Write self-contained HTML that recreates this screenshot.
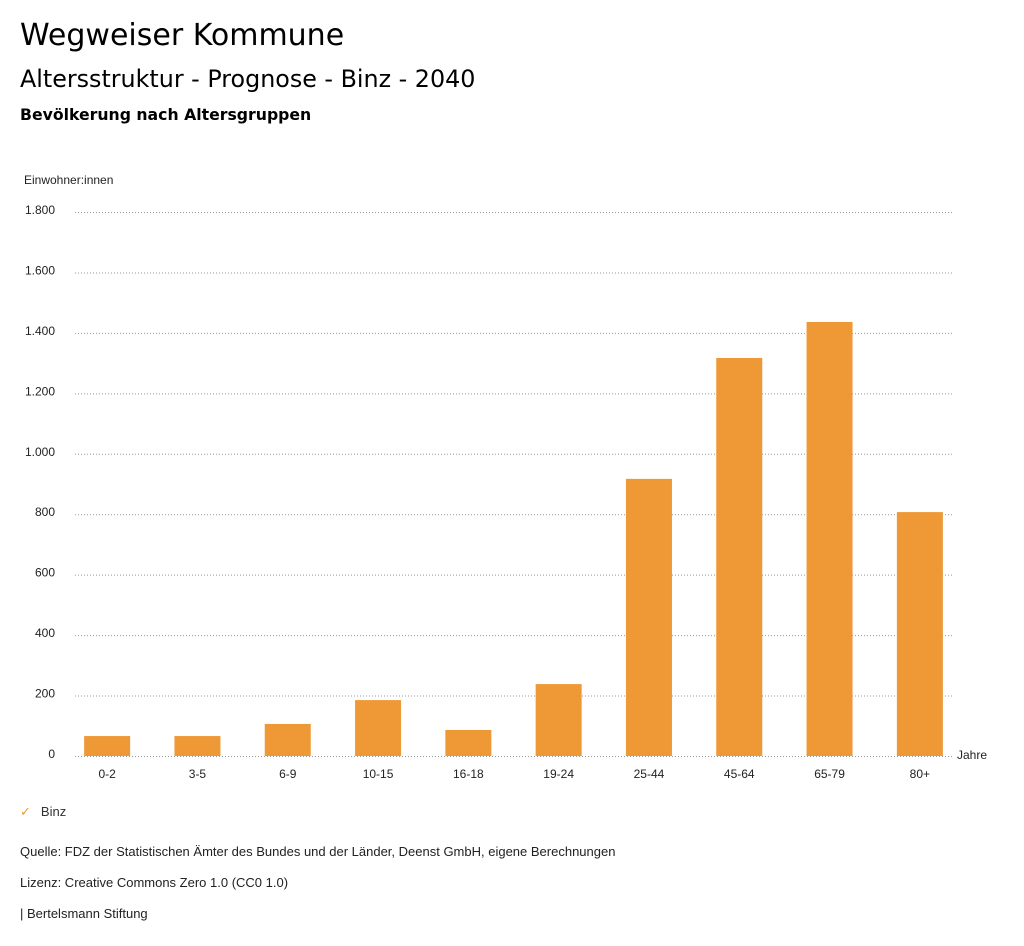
<!DOCTYPE html>
<html><head><meta charset="utf-8"><style>
body{margin:0;background:#fff;font-family:"Liberation Sans","DejaVu Sans",sans-serif;}
.t{position:absolute;color:#000;white-space:nowrap}
.d{font-family:"DejaVu Sans","Liberation Sans",sans-serif}
</style></head><body>
<div style="position:relative;width:1024px;height:946px;overflow:hidden">
<div class="t d" style="left:20px;top:18px;font-size:30px">Wegweiser Kommune</div>
<div class="t d" style="left:20px;top:65px;font-size:23.8px">Altersstruktur - Prognose - Binz - 2040</div>
<div class="t d" style="left:20px;top:105px;font-size:15.7px;font-weight:bold">Bevölkerung nach Altersgruppen</div>
<svg id="c" width="1024" height="946" style="position:absolute;left:0;top:0"></svg>
<div class="t" style="left:20px;top:804px;font-size:13px;color:#333"><span style="color:#ee9836;font-weight:bold;margin-right:10px">✓</span>Binz</div>
<div class="t" style="left:20px;top:844px;font-size:13px;color:#222">Quelle: FDZ der Statistischen Ämter des Bundes und der Länder, Deenst GmbH, eigene Berechnungen</div>
<div class="t" style="left:20px;top:875px;font-size:13px;color:#222">Lizenz: Creative Commons Zero 1.0 (CC0 1.0)</div>
<div class="t" style="left:20px;top:906px;font-size:13px;color:#222">| Bertelsmann Stiftung</div>
</div>
<script>
const categories=["0-2","3-5","6-9","10-15","16-18","19-24","25-44","45-64","65-79","80+"];
const values=[66,66,106,185,86,238,917,1317,1436,807];
const ticks=[0,200,400,600,800,1000,1200,1400,1600,1800];
const tickLabels=["0","200","400","600","800","1.000","1.200","1.400","1.600","1.800"];
const svg=document.getElementById('c');const NS="http://www.w3.org/2000/svg";
const y0=756,y1=212,vmax=1800,x0=62,x1=965;
const yS=v=>y0-(v/vmax)*(y0-y1);
const bw=(x1-x0)/categories.length;
const xC=i=>x0+bw*(i+0.5);
function mk(t,a){const e=document.createElementNS(NS,t);for(const k in a)e.setAttribute(k,a[k]);svg.appendChild(e);return e;}
ticks.forEach((v,i)=>{
 const l=mk('line',{x1:75,x2:953,y1:yS(v)+0.5,y2:yS(v)+0.5,stroke:'#999','stroke-dasharray':'1,2'});
 
 
 const t=mk('text',{x:55,y:yS(v)+2,'text-anchor':'end','font-size':12,fill:'#222','font-family':'Liberation Sans, sans-serif'});
 t.textContent=tickLabels[i];
 
 
});
const yt=mk('text',{x:24,y:184,'font-size':12,fill:'#222','font-family':'Liberation Sans, sans-serif'});yt.textContent='Einwohner:innen';


categories.forEach((c,i)=>{
 const b=mk('rect',{x:xC(i)-23,y:yS(values[i]),width:46,height:y0-yS(values[i]),fill:'#ee9836'});
 
 
 const t=mk('text',{x:xC(i),y:778,'text-anchor':'middle','font-size':12,fill:'#222','font-family':'Liberation Sans, sans-serif'});
 t.textContent=c;
 
 
});
const xt=mk('text',{x:957,y:759,'font-size':12,fill:'#222','font-family':'Liberation Sans, sans-serif'});xt.textContent='Jahre';


</script>
</body></html>
